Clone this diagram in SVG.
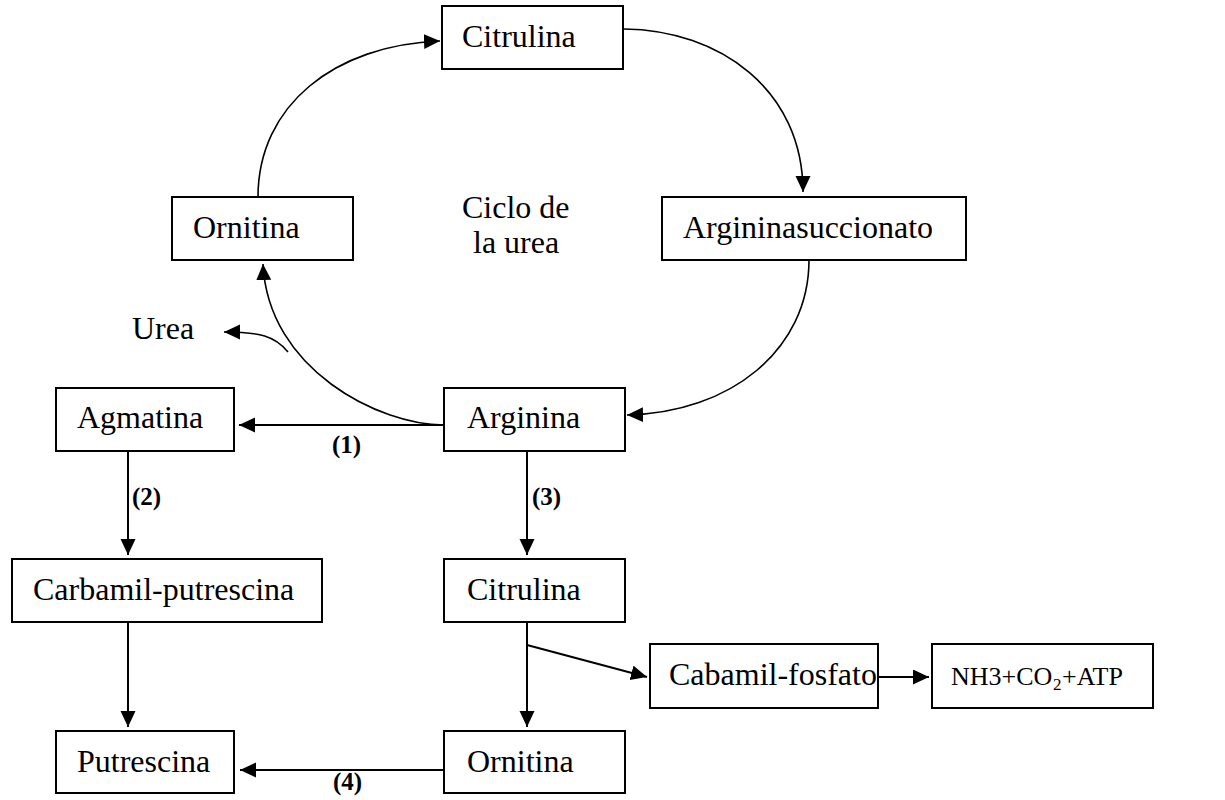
<svg xmlns="http://www.w3.org/2000/svg" width="1225" height="800" viewBox="0 0 1225 800">
<style>
.box{fill:#fff;stroke:#000;stroke-width:2}
.t{font-family:"Liberation Serif","Times New Roman",serif;font-size:32px;fill:#000}
.s{font-family:"Liberation Serif","Times New Roman",serif;font-size:26px;fill:#000}
.sub{font-family:"Liberation Serif","Times New Roman",serif;font-size:17px;fill:#000}
.lbl{font-family:"Liberation Serif","Times New Roman",serif;font-size:25px;font-weight:bold;fill:#000}
.ln{fill:none;stroke:#000;stroke-width:2;marker-end:url(#ah)}
.cv{fill:none;stroke:#000;stroke-width:1.6;marker-end:url(#ah)}
</style>
<defs>
<marker id="ah" markerUnits="userSpaceOnUse" markerWidth="17" markerHeight="16" refX="16" refY="7.5" orient="auto">
<path d="M0,0 L16,7.5 L0,15 z" fill="#000"/>
</marker>
</defs>
<g id="connectors">
<path class="cv" d="M258,197 C258,105 335,45 440,41"/>
<path class="cv" d="M624,29 C720,30 803,90 803,192"/>
<path class="cv" d="M809,260 C809,350 730,413 627,415"/>
<path class="cv" d="M444,425 C380,425 268,370 263,264"/>
<path class="cv" d="M288,352 C275,336 260,332 224,332"/>
<path class="ln" d="M444,425 L239,425"/>
<path class="ln" d="M128,451 L128,555"/>
<path class="ln" d="M128,622 L128,727"/>
<path class="ln" d="M527,451 L527,555"/>
<path class="ln" d="M527,622 L527,727"/>
<path class="ln" d="M527,645 L647,677"/>
<path class="ln" d="M878,677 L929,677"/>
<path class="ln" d="M444,770 L240,770"/>
<text class="lbl" x="332" y="453">(1)</text>
<text class="lbl" x="132" y="505">(2)</text>
<text class="lbl" x="532" y="505">(3)</text>
<text class="lbl" x="333" y="790">(4)</text>
</g>
<g id="citrulina-top"><rect class="box" x="442" y="6" width="181" height="63"/><text class="t" x="462" y="47">Citrulina</text></g>
<g id="ornitina-top"><rect class="box" x="172" y="197" width="181" height="63"/><text class="t" x="193" y="238">Ornitina</text></g>
<g id="ciclo"><text class="t" x="462" y="218">Ciclo de</text><text class="t" x="473" y="253">la urea</text></g>
<g id="argininasuccionato"><rect class="box" x="662" y="197" width="304" height="63"/><text class="t" x="683" y="238">Argininasuccionato</text></g>
<g id="urea"><text class="t" x="132" y="339">Urea</text></g>
<g id="agmatina"><rect class="box" x="56" y="388" width="178" height="63"/><text class="t" x="77" y="428">Agmatina</text></g>
<g id="arginina"><rect class="box" x="444" y="388" width="181" height="63"/><text class="t" x="467" y="428">Arginina</text></g>
<g id="carbamil-putrescina"><rect class="box" x="12" y="559" width="310" height="63"/><text class="t" x="33" y="600">Carbamil-putrescina</text></g>
<g id="citrulina-bottom"><rect class="box" x="444" y="559" width="181" height="63"/><text class="t" x="467" y="600">Citrulina</text></g>
<g id="cabamil-fosfato"><rect class="box" x="650" y="644" width="228" height="64"/><text class="t" x="669" y="685">Cabamil-fosfato</text></g>
<g id="nh3"><rect class="box" x="932" y="644" width="221" height="64"/><text class="s" x="951" y="685">NH3+CO</text><text class="sub" x="1053" y="690">2</text><text class="s" x="1062" y="685">+ATP</text></g>
<g id="putrescina"><rect class="box" x="56" y="731" width="178" height="62"/><text class="t" x="77" y="772">Putrescina</text></g>
<g id="ornitina-bottom"><rect class="box" x="444" y="731" width="181" height="62"/><text class="t" x="467" y="772">Ornitina</text></g>
</svg>
